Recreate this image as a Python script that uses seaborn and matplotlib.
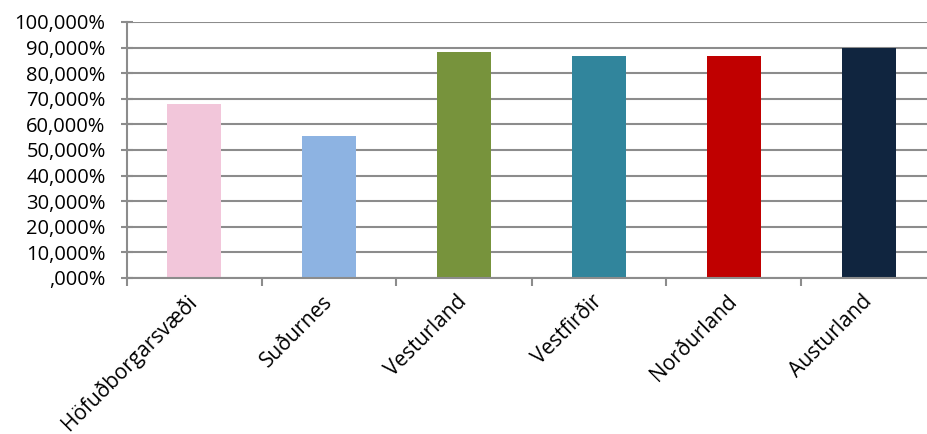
import matplotlib
matplotlib.use("Agg")
import matplotlib.pyplot as plt
import seaborn as sns
import pandas as pd
from matplotlib.ticker import FixedLocator

categories = ["Höfuðborgarsvæði", "Suðurnes", "Vesturland", "Vestfirðir", "Norðurland", "Austurland"]
values = [68.0, 55.5, 88.3, 86.7, 86.7, 90.0]
colors = ["#F2C6DA", "#8DB3E2", "#77933C", "#31859C", "#C00000", "#10253F"]
ytick_values = [0, 10, 20, 30, 40, 50, 60, 70, 80, 90, 100]
ytick_labels = [",000%", "10,000%", "20,000%", "30,000%", "40,000%", "50,000%",
                "60,000%", "70,000%", "80,000%", "90,000%", "100,000%"]

df = pd.DataFrame({"region": categories, "value": values})

sns.set_theme(style="white")
plt.rcParams["font.family"] = ["Open Sans", "DejaVu Sans"]

fig = plt.figure(figsize=(9.27, 4.34), dpi=100)
ax = fig.add_axes([126.5 / 927, 1 - 278 / 434, 810 / 927, 256 / 434])

sns.barplot(data=df, x="region", y="value", hue="region", palette=colors,
            order=categories, hue_order=categories, width=0.4, legend=False,
            saturation=1, linewidth=0, ax=ax)

ax.set_ylim(0, 100)
ax.set_xlim(-0.5, len(categories) - 0.5)
ax.set_yticks(ytick_values)
ax.set_yticklabels(ytick_labels, fontsize=14.5, color="black")
ax.yaxis.grid(True, color="#8C8C8C", linewidth=1.5)
ax.set_axisbelow(True)

ax.set_xticks(range(len(categories)))
ax.set_xticklabels(categories, rotation=45, ha="right", va="center",
                   rotation_mode="anchor", fontsize=15, color="black")
ax.tick_params(axis="x", which="major", length=0, pad=15)
ax.xaxis.set_minor_locator(FixedLocator([i - 0.5 for i in range(len(categories) + 1)]))
ax.tick_params(axis="x", which="minor", length=6, width=1.5, color="#8C8C8C", direction="out", bottom=True)
ax.tick_params(axis="y", length=8, width=1.5, color="#8C8C8C", direction="inout", left=True, pad=11)

for s in ["top", "right"]:
    ax.spines[s].set_visible(False)
for s in ["left", "bottom"]:
    ax.spines[s].set_color("#8C8C8C")
    ax.spines[s].set_linewidth(1.5)

ax.set_xlabel("")
ax.set_ylabel("")

fig.savefig("out.png", dpi=100)
